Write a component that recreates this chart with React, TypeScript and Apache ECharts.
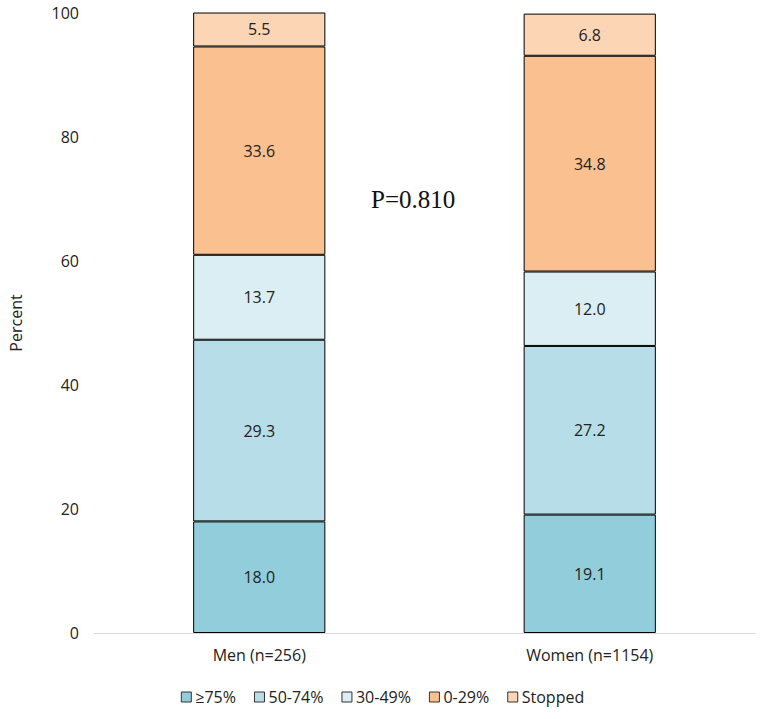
import React, { useEffect, useRef } from "react";
import * as echarts from "echarts";

const categories = ["Men (n=256)", "Women (n=1154)"];
const seriesNames = ["≥75%", "50-74%", "30-49%", "0-29%", "Stopped"];
const ge75 = [18.0, 19.1];
const p50to74 = [29.3, 27.2];
const p30to49 = [13.7, 12.0];
const p0to29 = [33.6, 34.8];
const stopped = [5.5, 6.8];
const colors = ["#92CDDC", "#B7DEE8", "#DAEEF3", "#FAC090", "#FCD5B5"];
const yTicks = { min: 0, max: 100, interval: 20 };

export default function App() {
  const ref = useRef<HTMLDivElement>(null);
  useEffect(() => {
    if (!ref.current) return;
    const chart = echarts.init(ref.current, null, { renderer: "svg" });
    const data = [ge75, p50to74, p30to49, p0to29, stopped];
    const font = "'Open Sans', 'DejaVu Sans', sans-serif";
    chart.setOption({
      animation: false,
      textStyle: { fontFamily: font },
      grid: { left: 85, right: 10, top: 13, bottom: 86 },
      legend: {
        bottom: 9,
        left: "center",
        itemWidth: 10,
        itemHeight: 10,
        itemGap: 18,
        icon: "rect",
        textStyle: { fontSize: 16, color: "#222", fontFamily: font, padding: [0, 0, 0, -1] },
        data: seriesNames.map((n, i) => ({
          name: n,
          itemStyle: { color: colors[i], borderColor: "#333", borderWidth: 1 },
        })),
      },
      xAxis: {
        type: "category",
        data: categories,
        axisLine: { show: true, lineStyle: { color: "#d9d9d9", width: 1 } },
        axisTick: { show: false },
        axisLabel: { fontSize: 16, color: "#222", margin: 14, fontFamily: font },
      },
      yAxis: {
        type: "value",
        min: yTicks.min,
        max: yTicks.max,
        interval: yTicks.interval,
        name: "Percent",
        nameLocation: "middle",
        nameGap: 70,
        nameRotate: 90,
        nameTextStyle: { fontSize: 16, color: "#222", fontFamily: font },
        axisLine: { show: false },
        axisTick: { show: false },
        splitLine: { show: false },
        axisLabel: { fontSize: 16, color: "#222", margin: 15, fontFamily: font },
      },
      series: seriesNames.map((n, i) => ({
        name: n,
        type: "bar",
        stack: "total",
        barWidth: "40%",
        data: data[i],
        itemStyle: { color: colors[i], borderColor: "#000", borderWidth: 1 },
        label: {
          show: true,
          position: "inside",
          fontSize: 16,
          color: "#222",
          fontFamily: font,
          formatter: (p: any) => Number(p.value).toFixed(1),
        },
      })),
      graphic: [
        {
          type: "text",
          x: 371,
          y: 199,
          style: {
            text: "P=0.810",
            fontSize: 25,
            fontFamily: "'Liberation Serif', 'Times New Roman', serif",
            fill: "#111",
            textVerticalAlign: "middle",
            verticalAlign: "middle",
          },
        },
      ],
    });
    return () => chart.dispose();
  }, []);
  return (
    <div
      ref={ref}
      style={{ position: "fixed", left: 0, top: 0, width: 765, height: 719, background: "#fff" }}
    />
  );
}
